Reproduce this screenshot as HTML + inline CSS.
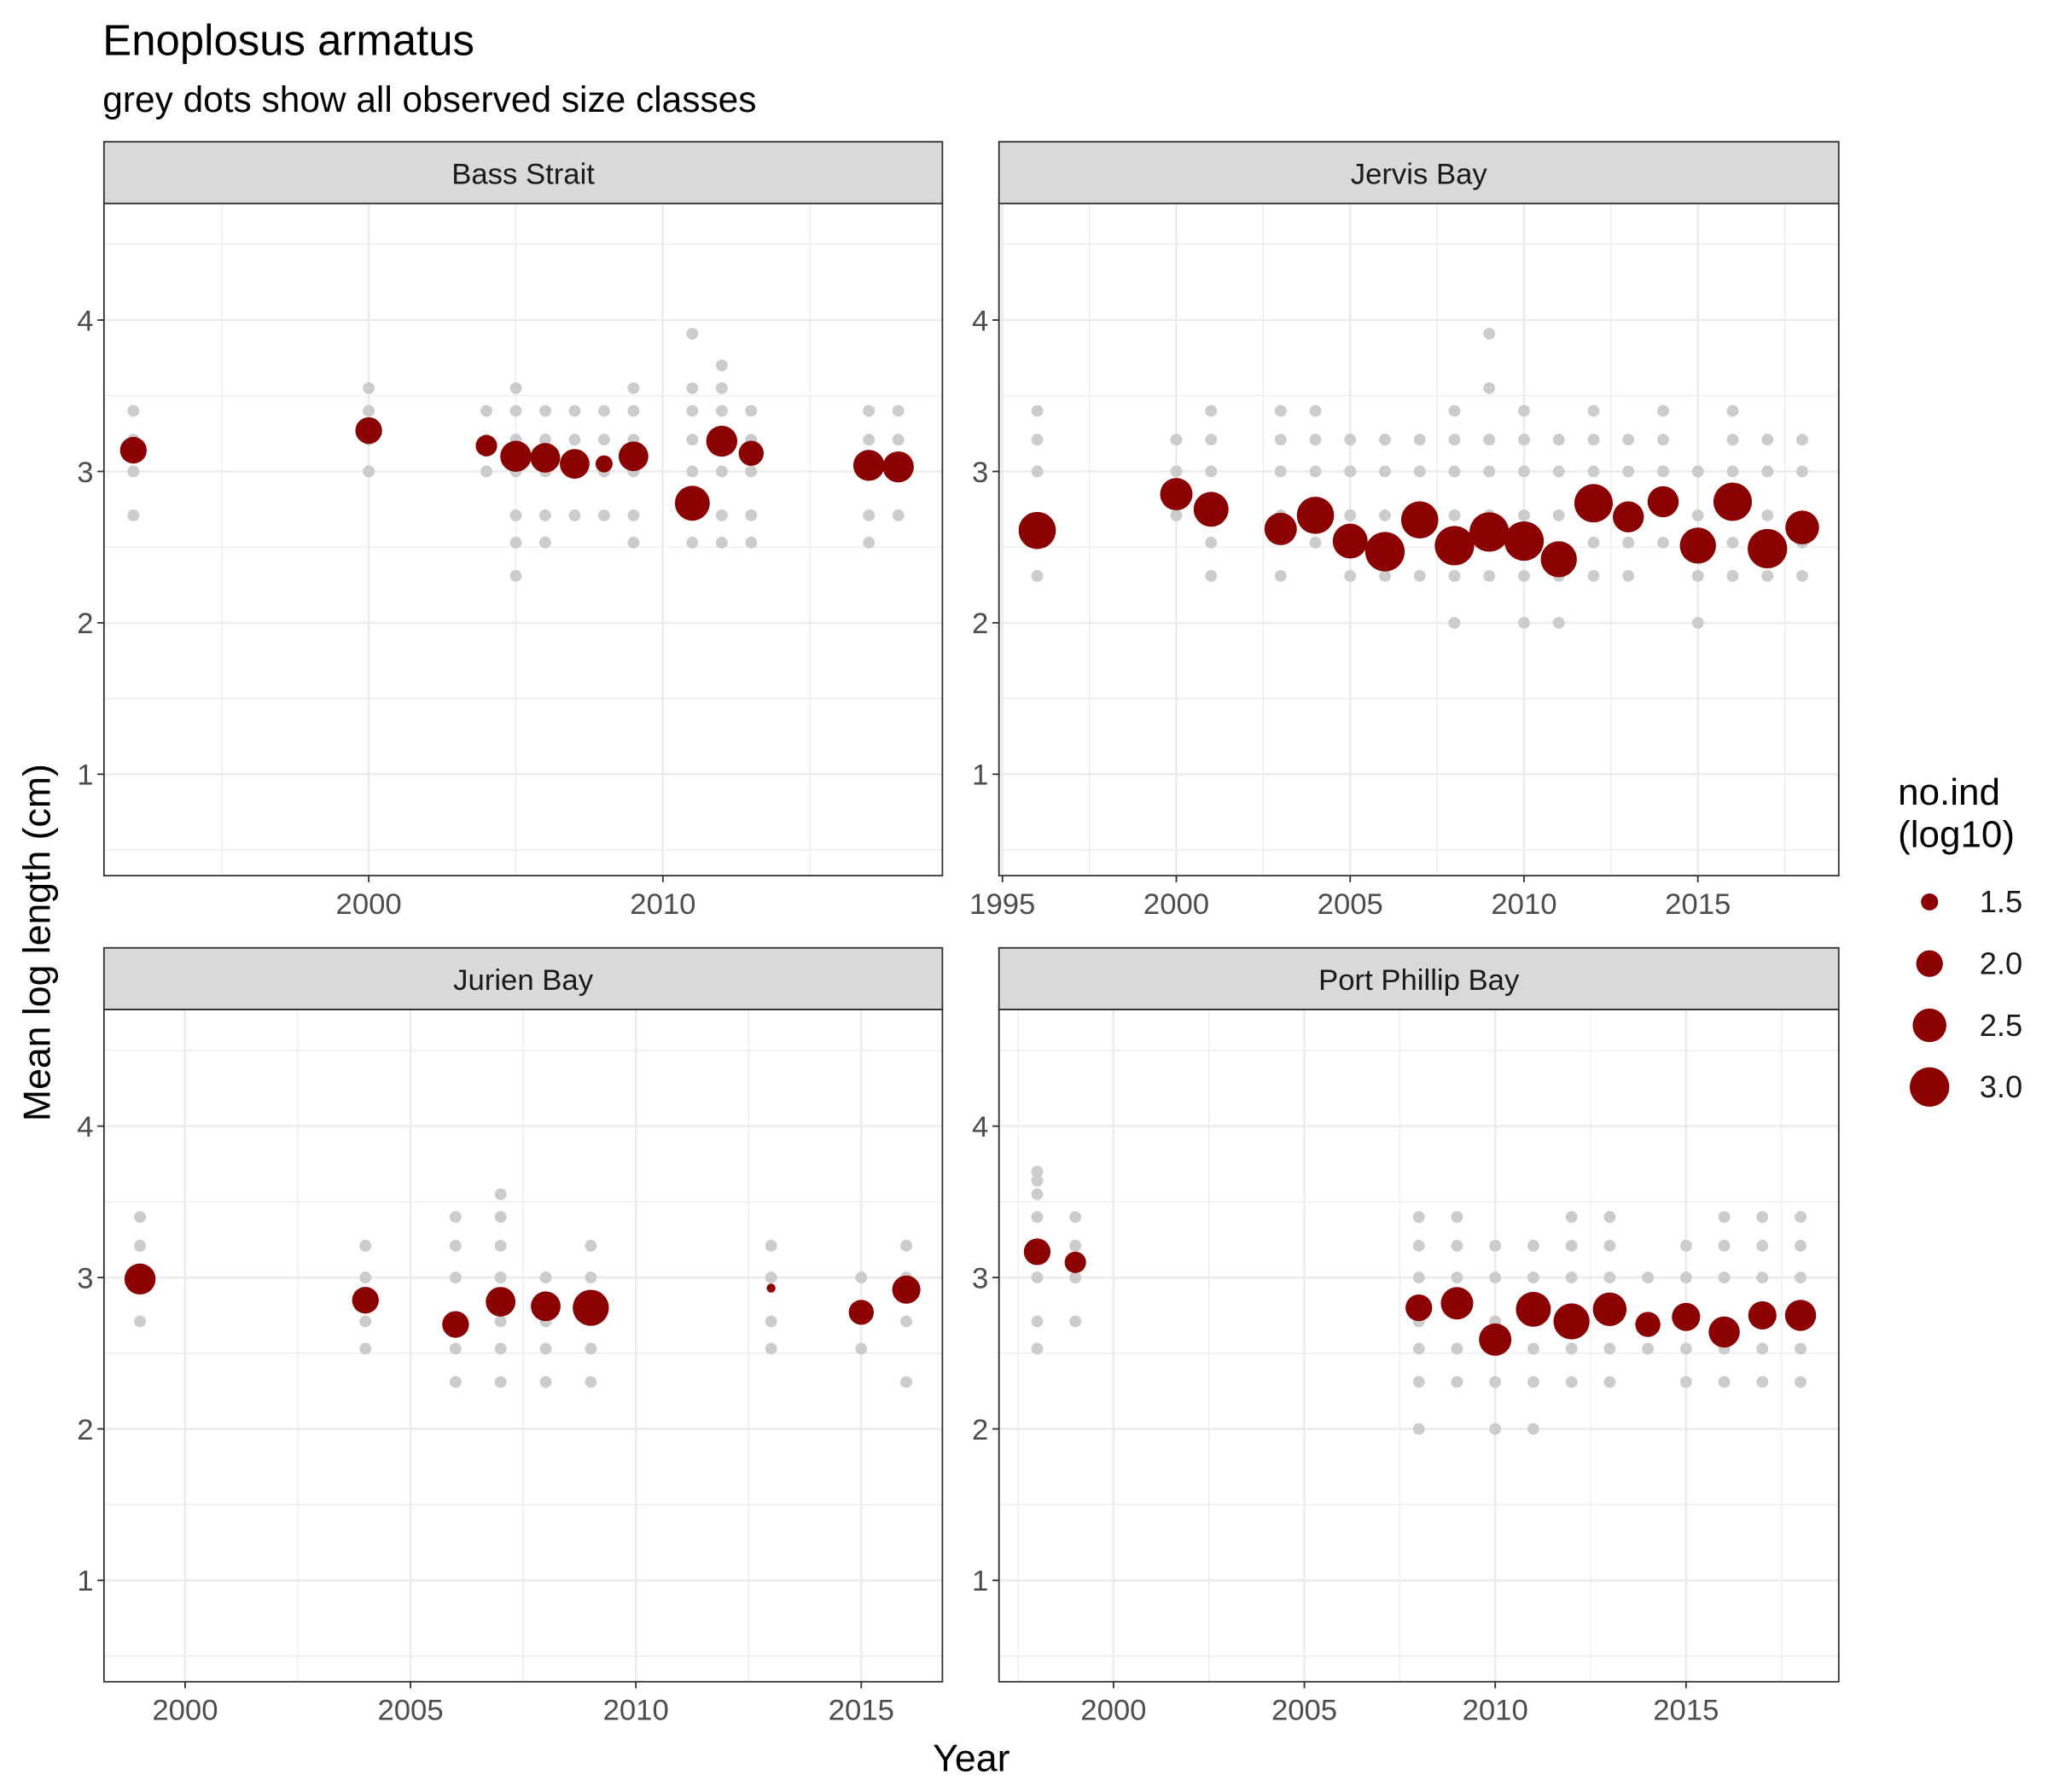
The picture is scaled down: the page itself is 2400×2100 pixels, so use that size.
<!DOCTYPE html>
<html><head><meta charset="utf-8"><style>
html,body{margin:0;padding:0;background:#fff}
svg{display:block;font-family:"Liberation Sans",Arial,sans-serif}
</style></head>
<body>
<svg id="chart" width="2400" height="2100" viewBox="0 0 1556 1365" preserveAspectRatio="none" xmlns="http://www.w3.org/2000/svg">
<rect width="1556" height="1365" fill="#fff"/>
<text x="78" y="42" font-size="33" fill="#000">Enoplosus armatus</text>
<text x="78" y="85" font-size="27.5" fill="#000">grey dots show all observed size classes</text>
<text x="738" y="1349" font-size="29" text-anchor="middle">Year</text>
<text transform="translate(38,718) rotate(-90)" font-size="29" text-anchor="middle">Mean log length (cm)</text>
<g id="panels"></g>
<g id="legend">
<text x="1442" y="613" font-size="28.5">no.ind</text>
<text x="1442" y="645" font-size="28.5">(log10)</text>
</g>
</svg>
<script>
const NS='http://www.w3.org/2000/svg';
// Panel names
const panelNames=['Bass Strait','Jervis Bay','Jurien Bay','Port Phillip Bay'];
// Years per panel
const bassYears=[1992,2000,2004,2005,2006,2007,2008,2009,2011,2012,2013,2017,2018];
const bassMean=[3.14,3.27,3.17,3.10,3.09,3.05,3.05,3.10,2.79,3.20,3.12,3.04,3.03];
const bassN=[2.0,2.0,1.7,2.3,2.2,2.2,1.5,2.2,2.6,2.3,1.9,2.3,2.3];
const bassClasses=[[3.4,3.21,3.0,2.71],[3.55,3.4,3.21,3.0],[3.4,3.21,3.0],[3.55,3.4,3.21,3.0,2.71,2.53,2.31],[3.4,3.21,3.0,2.71,2.53],[3.4,3.21,3.0,2.71],[3.4,3.21,3.0,2.71],[3.55,3.4,3.21,3.0,2.71,2.53],[3.91,3.55,3.4,3.21,3.0,2.71,2.53],[3.7,3.55,3.4,3.21,3.0,2.71,2.53],[3.4,3.21,3.0,2.71,2.53],[3.4,3.21,3.0,2.71,2.53],[3.4,3.21,3.0,2.71]];
const jervisYears=[1996,2000,2001,2003,2004,2005,2006,2007,2008,2009,2010,2011,2012,2013,2014,2015,2016,2017,2018];
const jervisMean=[2.61,2.85,2.75,2.62,2.71,2.54,2.47,2.68,2.51,2.60,2.54,2.42,2.79,2.70,2.80,2.51,2.80,2.49,2.63];
const jervisN=[2.8,2.4,2.6,2.4,2.8,2.6,3.0,2.8,3.0,3.0,3.0,2.7,2.9,2.3,2.3,2.7,2.9,3.0,2.5];
const jervisClasses=[[3.4,3.21,3.0,2.31],[3.21,3.0,2.71],[3.4,3.21,3.0,2.53,2.31],[3.4,3.21,3.0,2.71,2.31],[3.4,3.21,3.0,2.53],[3.21,3.0,2.71,2.31],[3.21,3.0,2.71,2.31],[3.21,3.0,2.31],[3.4,3.21,3.0,2.71,2.31,2.0],[3.91,3.55,3.21,3.0,2.71,2.31],[3.4,3.21,3.0,2.71,2.31,2.0],[3.21,3.0,2.71,2.31,2.0],[3.4,3.21,3.0,2.53,2.31],[3.21,3.0,2.53,2.31],[3.4,3.21,3.0,2.53],[3.0,2.71,2.31,2.0],[3.4,3.21,3.0,2.53,2.31],[3.21,3.0,2.71,2.31],[3.21,3.0,2.53,2.31]];
const jurienYears=[1999,2004,2006,2007,2008,2009,2013,2015,2016];
const jurienMean=[2.99,2.85,2.69,2.84,2.81,2.80,2.93,2.77,2.92];
const jurienN=[2.3,2.0,2.0,2.2,2.2,2.7,1.25,1.9,2.1];
const jurienClasses=[[3.4,3.21,3.0,2.71],[3.21,3.0,2.71,2.53],[3.4,3.21,3.0,2.53,2.31],[3.55,3.4,3.21,3.0,2.71,2.53,2.31],[3.0,2.71,2.53,2.31],[3.21,3.0,2.53,2.31],[3.21,3.0,2.71,2.53],[3.0,2.53],[3.21,3.0,2.71,2.31]];
const ppYears=[1998,1999,2008,2009,2010,2011,2012,2013,2014,2015,2016,2017,2018];
const ppMean=[3.17,3.10,2.80,2.83,2.59,2.79,2.71,2.79,2.69,2.74,2.64,2.75,2.75];
const ppN=[2.0,1.7,2.0,2.4,2.4,2.6,2.7,2.5,1.9,2.1,2.3,2.1,2.3];
const ppClasses=[[3.7,3.64,3.55,3.4,3.21,3.0,2.71,2.53],[3.4,3.21,3.0,2.71],[3.4,3.21,3.0,2.71,2.53,2.31,2.0],[3.4,3.21,3.0,2.53,2.31],[3.21,3.0,2.71,2.31,2.0],[3.21,3.0,2.53,2.31,2.0],[3.4,3.21,3.0,2.53,2.31],[3.4,3.21,3.0,2.53,2.31],[3.0,2.53],[3.21,3.0,2.53,2.31],[3.4,3.21,3.0,2.53,2.31],[3.4,3.21,3.0,2.53,2.31],[3.4,3.21,3.0,2.53,2.31]];
const yTicks=[1,2,3,4];
const legendValues=[1.5,2.0,2.5,3.0];

const panels=[
 {name:panelNames[0],years:bassYears,mean:bassMean,n:bassN,cls:bassClasses,x0:79,x1:716,top:108,xmin:1991.0,xmax:2019.5,ticks:[2000,2010],minor:[1995,2005,2015]},
 {name:panelNames[1],years:jervisYears,mean:jervisMean,n:jervisN,cls:jervisClasses,x0:759,x1:1397,top:108,xmin:1994.9,xmax:2019.05,ticks:[1995,2000,2005,2010,2015],minor:[1997.5,2002.5,2007.5,2012.5,2017.5]},
 {name:panelNames[2],years:jurienYears,mean:jurienMean,n:jurienN,cls:jurienClasses,x0:79,x1:716,top:722,xmin:1998.2,xmax:2016.8,ticks:[2000,2005,2010,2015],minor:[2002.5,2007.5,2012.5]},
 {name:panelNames[3],years:ppYears,mean:ppMean,n:ppN,cls:ppClasses,x0:759,x1:1397,top:722,xmin:1997.0,xmax:2019.0,ticks:[2000,2005,2010,2015],minor:[1997.5,2002.5,2007.5,2012.5,2017.5]}
];
function rad(v){return Math.sqrt(Math.max(4,42+(v-1.5)*122));}
function mk(tag,attrs,parent){const e=document.createElementNS(NS,tag);for(const k in attrs)e.setAttribute(k,attrs[k]);parent.appendChild(e);return e;}
const root=document.getElementById('panels');
panels.forEach((p,pi)=>{
 const g=mk('g',{},root);
 
 
 const pt=p.top+47, pb=pt+512;
 const ymin=0.33, ymax=4.77;
 const X=v=>p.x0+(v-p.xmin)/(p.xmax-p.xmin)*(p.x1-p.x0);
 const Y=v=>pb-(v-ymin)/(ymax-ymin)*(pb-pt);
 const strip=mk('rect',{x:p.x0,y:p.top,width:p.x1-p.x0,height:47,fill:'#d9d9d9',stroke:'#333','stroke-width':1.2},g);
 
 
 const st=mk('text',{x:(p.x0+p.x1)/2,y:p.top+32,'font-size':22.5,'text-anchor':'middle',fill:'#1a1a1a'},g);
 st.textContent=p.name;
 
 
 [0.5,1.5,2.5,3.5,4.5].forEach(v=>mk('line',{x1:p.x0,x2:p.x1,y1:Y(v),y2:Y(v),stroke:'#ebebeb','stroke-width':0.8},g));
 p.minor.forEach(v=>mk('line',{x1:X(v),x2:X(v),y1:pt,y2:pb,stroke:'#ebebeb','stroke-width':0.8},g));
 yTicks.forEach(v=>mk('line',{x1:p.x0,x2:p.x1,y1:Y(v),y2:Y(v),stroke:'#ebebeb','stroke-width':1.6},g));
 p.ticks.forEach(v=>mk('line',{x1:X(v),x2:X(v),y1:pt,y2:pb,stroke:'#ebebeb','stroke-width':1.6},g));
 p.years.forEach((yr,i)=>{p.cls[i].forEach(c=>{
  const d=mk('circle',{cx:X(yr),cy:Y(c),r:4.5,fill:'#cccccc'},g);
  
  
 });});
 p.years.forEach((yr,i)=>{
  const d=mk('circle',{cx:X(yr),cy:Y(p.mean[i]),r:rad(p.n[i]),fill:'#8b0000'},g);
  
  
 });
 mk('rect',{x:p.x0,y:pt,width:p.x1-p.x0,height:pb-pt,fill:'none',stroke:'#333','stroke-width':1.2},g);
 yTicks.forEach(v=>{
  mk('line',{x1:p.x0-5,x2:p.x0,y1:Y(v),y2:Y(v),stroke:'#333','stroke-width':1.2},g);
  const t=mk('text',{x:p.x0-8,y:Y(v)+8,'font-size':22.5,'text-anchor':'end',fill:'#4d4d4d'},g);
  t.textContent=v;
  
  
 });
 p.ticks.forEach(v=>{
  mk('line',{x1:X(v),x2:X(v),y1:pb,y2:pb+5,stroke:'#333','stroke-width':1.2},g);
  const t=mk('text',{x:X(v),y:pb+29,'font-size':22.5,'text-anchor':'middle',fill:'#4d4d4d'},g);
  t.textContent=v;
  
  
 });
});
const lg=document.getElementById('legend');
legendValues.forEach((v,i)=>{
 const cy=687+i*47;
 const c=mk('circle',{cx:1466,cy:cy,r:rad(v),fill:'#8b0000'},lg);
 
 
 const t=mk('text',{x:1504,y:cy+8,'font-size':23.5,fill:'#1a1a1a'},lg);
 t.textContent=v.toFixed(1);
 
 
});
</script>
</body></html>
